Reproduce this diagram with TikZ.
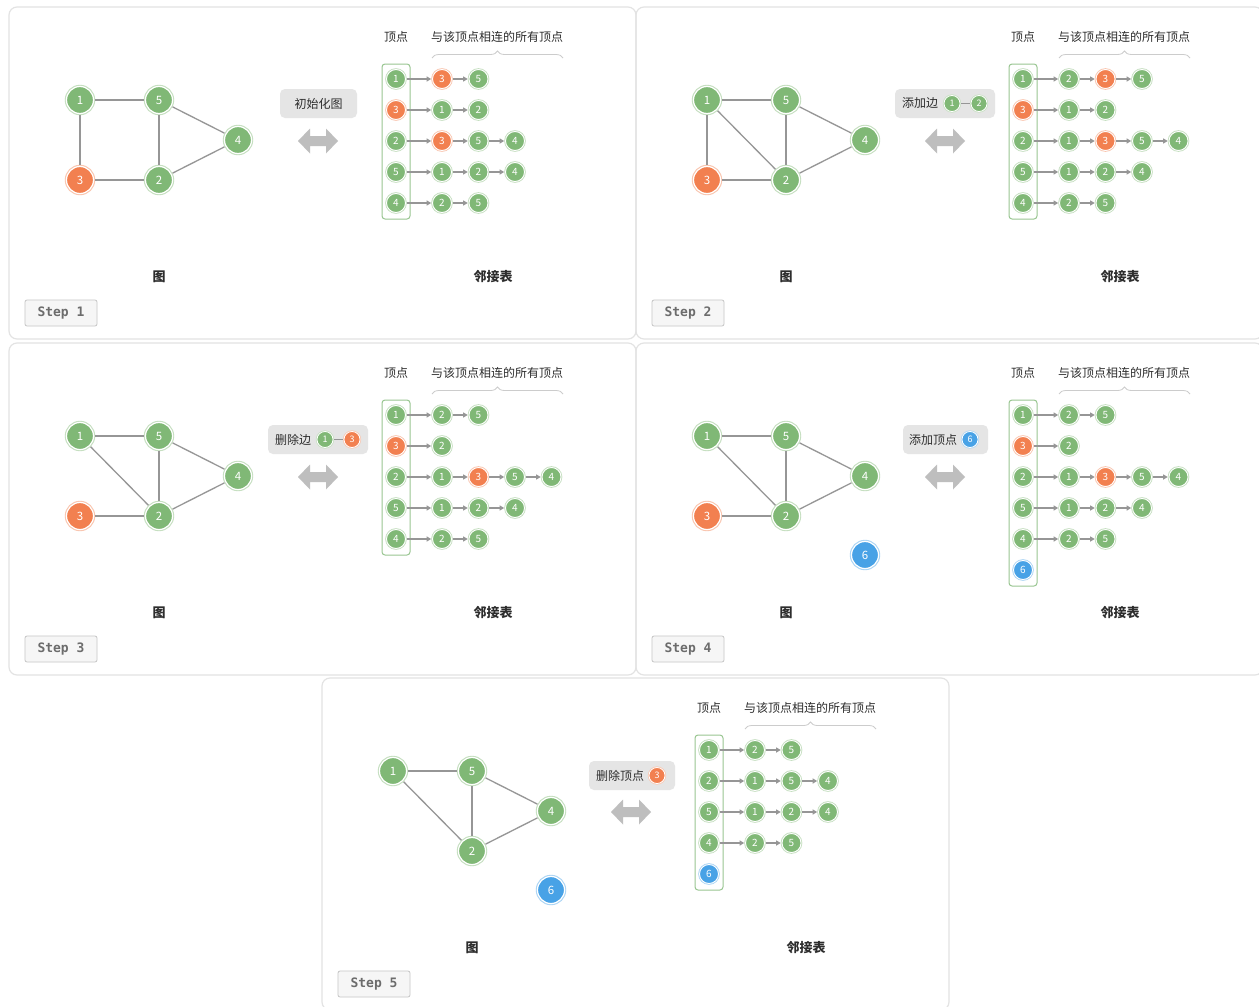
\documentclass[tikz,border=0pt]{standalone}
\usepackage{fontspec}
\setmainfont{Noto Sans CJK SC}
\setmonofont{DejaVu Sans Mono}
\usetikzlibrary{arrows.meta,positioning,calc,decorations.pathreplacing}
\definecolor{vgreen}{RGB}{128,184,118}
\definecolor{vorange}{RGB}{242,128,80}
\definecolor{vblue}{RGB}{72,162,230}
\definecolor{edgegray}{RGB}{150,150,150}
\definecolor{txtgray}{RGB}{45,45,45}
\definecolor{arrowgray}{RGB}{190,190,190}
\tikzset{
  vbase/.style={circle, fill=#1, draw=white, inner sep=0pt, text=white},
  gnode/.style={vbase=#1, line width=1.2pt, minimum size=27pt, outer sep=1.7pt,
    font=\fontsize{11.5}{11.5}\selectfont, preaction={draw=#1!45!white, line width=3.4pt}},
  lnode/.style={vbase=#1, line width=0.9pt, minimum size=19pt, outer sep=1.3pt,
    font=\fontsize{10}{10}\selectfont, preaction={draw=#1!45!white, line width=2.6pt}},
  bnode/.style={vbase=#1, line width=0.8pt, minimum size=16pt, outer sep=1pt,
    font=\fontsize{9}{9}\selectfont, preaction={draw=#1!45!white, line width=2.2pt}},
  edgeln/.style={draw=edgegray, line width=1.3pt},
  listarr/.style={-{Triangle[length=4.5pt,width=5pt]}, draw=edgegray, line width=1.1pt},
  colbox/.style={draw=vgreen!80!white, line width=1pt, rounded corners=3pt},
  panelbox/.style={draw=gray!22, line width=1.2pt, rounded corners=8pt},
  btnbox/.style={fill=gray!20, rounded corners=5pt, inner sep=0pt},
  btntxt/.style={font=\fontsize{12}{12}\selectfont, text=txtgray, inner sep=0pt},
  stepbox/.style={draw=gray!45, fill=gray!7, rounded corners=2pt, line width=0.8pt,
    minimum width=72pt, minimum height=26pt, text=gray!85!black,
    font=\ttfamily\bfseries\fontsize{13}{13}\selectfont},
  headtxt/.style={font=\fontsize{12}{12}\selectfont, text=txtgray},
  captxt/.style={font=\bfseries\fontsize{13}{13}\selectfont, text=txtgray},
  bracel/.style={draw=gray!40, line width=0.8pt, decorate, decoration={brace, amplitude=7pt}},
}
% fat two-headed arrow between graph and list
\newcommand{\dblarrow}[1]{%
  \fill[arrowgray, shift={#1}] (-20,0) -- (-8,-12.5) -- (-8,-5) -- (8,-5) -- (8,-12.5)
    -- (20,0) -- (8,12.5) -- (8,5) -- (-8,5) -- (-8,12.5) -- cycle;
}
% frame, headings and captions of one step
\newcommand{\panelframe}[2]{%
  \draw[panelbox] (0,0) rectangle (627,332);
  \node[headtxt] (#1-hv) at (387,30) {顶点};
  \node[headtxt] (#1-hl) at (488,30) {与该顶点相连的所有顶点};
  \draw[bracel] (423,51) -- (554,51);
  \node[captxt] (#1-cg) at (150,270) {图};
  \node[captxt] (#1-ca) at (484,270) {邻接表};
  \node[stepbox] (#1-st) at (52,306) {Step #2};
  \dblarrow{(309,134)}
}
% one row of the list: name, y, vertex, colour, neighbours
\newcommand{\adjrow}[5]{%
  \node[lnode=#4] (#1-0) at (387,#2) {#3};
  \foreach \vl/\vc [count=\i] in {#5} {
    \pgfmathtruncatemacro{\prv}{\i-1}
    \node[lnode=\vc] (#1-\i) at (433+36.5*\i-36.5,#2) {\vl};
    \draw[listarr] (#1-\prv) -- (#1-\i);
  }
}

\begin{document}
\begin{tikzpicture}[x=1pt, y=-1pt]
  \fill[white] (0,0) rectangle (1259,1007);
  \useasboundingbox (0,0) rectangle (1259,1007);
  \clip (0,0) rectangle (1259,1007);

  % step 1: initial graph
  \begin{scope}[shift={(9,7)}]
    \panelframe{a}{1}
    \node[gnode=vgreen] (a1) at (71,93) {1};
    \node[gnode=vgreen] (a5) at (150,93) {5};
    \node[gnode=vgreen] (a4) at (229,133) {4};
    \node[gnode=vorange] (a3) at (71,173) {3};
    \node[gnode=vgreen] (a2) at (150,173) {2};
    \draw[edgeln] (a1) -- (a5);
    \draw[edgeln] (a1) -- (a3);
    \draw[edgeln] (a5) -- (a2);
    \draw[edgeln] (a5) -- (a4);
    \draw[edgeln] (a3) -- (a2);
    \draw[edgeln] (a2) -- (a4);
    \node[btnbox, minimum width=77pt, minimum height=29pt] (a-btn) at (309.5,96.5) {};
    \node[btntxt] (a-bt) at (a-btn) {初始化图};
    \draw[colbox] (373,57) rectangle (401,212);
    \adjrow{a-r1}{72}{1}{vgreen}{3/vorange,5/vgreen}
    \adjrow{a-r2}{103}{3}{vorange}{1/vgreen,2/vgreen}
    \adjrow{a-r3}{134}{2}{vgreen}{3/vorange,5/vgreen,4/vgreen}
    \adjrow{a-r4}{165}{5}{vgreen}{1/vgreen,2/vgreen,4/vgreen}
    \adjrow{a-r5}{196}{4}{vgreen}{2/vgreen,5/vgreen}
  \end{scope}

  % step 2: add edge 1-2
  \begin{scope}[shift={(636,7)}]
    \panelframe{b}{2}
    \node[gnode=vgreen] (b1) at (71,93) {1};
    \node[gnode=vgreen] (b5) at (150,93) {5};
    \node[gnode=vgreen] (b4) at (229,133) {4};
    \node[gnode=vorange] (b3) at (71,173) {3};
    \node[gnode=vgreen] (b2) at (150,173) {2};
    \draw[edgeln] (b1) -- (b5);
    \draw[edgeln] (b1) -- (b3);
    \draw[edgeln] (b1) -- (b2);
    \draw[edgeln] (b5) -- (b2);
    \draw[edgeln] (b5) -- (b4);
    \draw[edgeln] (b3) -- (b2);
    \draw[edgeln] (b2) -- (b4);
    \node[btnbox, minimum width=100pt, minimum height=29pt] (b-btn) at (309,96.5) {};
    \node[btntxt] (b-bt) at (284,96.5) {添加边};
    \node[bnode=vgreen] (b-bx) at (316,96.5) {1};
    \node[bnode=vgreen] (b-by) at (343,96.5) {2};
    \draw[edgeln, line width=1pt] (b-bx) -- (b-by);
    \draw[colbox] (373,57) rectangle (401,212);
    \adjrow{b-r1}{72}{1}{vgreen}{2/vgreen,3/vorange,5/vgreen}
    \adjrow{b-r2}{103}{3}{vorange}{1/vgreen,2/vgreen}
    \adjrow{b-r3}{134}{2}{vgreen}{1/vgreen,3/vorange,5/vgreen,4/vgreen}
    \adjrow{b-r4}{165}{5}{vgreen}{1/vgreen,2/vgreen,4/vgreen}
    \adjrow{b-r5}{196}{4}{vgreen}{2/vgreen,5/vgreen}
  \end{scope}

  % step 3: remove edge 1-3
  \begin{scope}[shift={(9,343)}]
    \panelframe{c}{3}
    \node[gnode=vgreen] (c1) at (71,93) {1};
    \node[gnode=vgreen] (c5) at (150,93) {5};
    \node[gnode=vgreen] (c4) at (229,133) {4};
    \node[gnode=vorange] (c3) at (71,173) {3};
    \node[gnode=vgreen] (c2) at (150,173) {2};
    \draw[edgeln] (c1) -- (c5);
    \draw[edgeln] (c1) -- (c2);
    \draw[edgeln] (c5) -- (c2);
    \draw[edgeln] (c5) -- (c4);
    \draw[edgeln] (c3) -- (c2);
    \draw[edgeln] (c2) -- (c4);
    \node[btnbox, minimum width=100pt, minimum height=29pt] (c-btn) at (309,96.5) {};
    \node[btntxt] (c-bt) at (284,96.5) {删除边};
    \node[bnode=vgreen] (c-bx) at (316,96.5) {1};
    \node[bnode=vorange] (c-by) at (343,96.5) {3};
    \draw[edgeln, line width=1pt] (c-bx) -- (c-by);
    \draw[colbox] (373,57) rectangle (401,212);
    \adjrow{c-r1}{72}{1}{vgreen}{2/vgreen,5/vgreen}
    \adjrow{c-r2}{103}{3}{vorange}{2/vgreen}
    \adjrow{c-r3}{134}{2}{vgreen}{1/vgreen,3/vorange,5/vgreen,4/vgreen}
    \adjrow{c-r4}{165}{5}{vgreen}{1/vgreen,2/vgreen,4/vgreen}
    \adjrow{c-r5}{196}{4}{vgreen}{2/vgreen,5/vgreen}
  \end{scope}

  % step 4: add vertex 6
  \begin{scope}[shift={(636,343)}]
    \panelframe{d}{4}
    \node[gnode=vgreen] (d1) at (71,93) {1};
    \node[gnode=vgreen] (d5) at (150,93) {5};
    \node[gnode=vgreen] (d4) at (229,133) {4};
    \node[gnode=vorange] (d3) at (71,173) {3};
    \node[gnode=vgreen] (d2) at (150,173) {2};
    \node[gnode=vblue] (d6) at (229,212) {6};
    \draw[edgeln] (d1) -- (d5);
    \draw[edgeln] (d1) -- (d2);
    \draw[edgeln] (d5) -- (d2);
    \draw[edgeln] (d5) -- (d4);
    \draw[edgeln] (d3) -- (d2);
    \draw[edgeln] (d2) -- (d4);
    \node[btnbox, minimum width=85pt, minimum height=29pt] (d-btn) at (309.5,96.5) {};
    \node[btntxt] (d-bt) at (297,96.5) {添加顶点};
    \node[bnode=vblue] (d-bx) at (334,96.5) {6};
    \draw[colbox] (373,57) rectangle (401,243);
    \adjrow{d-r1}{72}{1}{vgreen}{2/vgreen,5/vgreen}
    \adjrow{d-r2}{103}{3}{vorange}{2/vgreen}
    \adjrow{d-r3}{134}{2}{vgreen}{1/vgreen,3/vorange,5/vgreen,4/vgreen}
    \adjrow{d-r4}{165}{5}{vgreen}{1/vgreen,2/vgreen,4/vgreen}
    \adjrow{d-r5}{196}{4}{vgreen}{2/vgreen,5/vgreen}
    \node[lnode=vblue] (d-r6-0) at (387,227) {6};
  \end{scope}

  % step 5: remove vertex 3
  \begin{scope}[shift={(322,678)}]
    \panelframe{e}{5}
    \node[gnode=vgreen] (e1) at (71,93) {1};
    \node[gnode=vgreen] (e5) at (150,93) {5};
    \node[gnode=vgreen] (e4) at (229,133) {4};
    \node[gnode=vgreen] (e2) at (150,173) {2};
    \node[gnode=vblue] (e6) at (229,212) {6};
    \draw[edgeln] (e1) -- (e5);
    \draw[edgeln] (e1) -- (e2);
    \draw[edgeln] (e5) -- (e2);
    \draw[edgeln] (e5) -- (e4);
    \draw[edgeln] (e2) -- (e4);
    \node[btnbox, minimum width=86pt, minimum height=29pt] (e-btn) at (310,97.5) {};
    \node[btntxt] (e-bt) at (298,97.5) {删除顶点};
    \node[bnode=vorange] (e-bx) at (335,97.5) {3};
    \draw[colbox] (373,57) rectangle (401,212);
    \adjrow{e-r1}{72}{1}{vgreen}{2/vgreen,5/vgreen}
    \adjrow{e-r2}{103}{2}{vgreen}{1/vgreen,5/vgreen,4/vgreen}
    \adjrow{e-r3}{134}{5}{vgreen}{1/vgreen,2/vgreen,4/vgreen}
    \adjrow{e-r4}{165}{4}{vgreen}{2/vgreen,5/vgreen}
    \node[lnode=vblue] (e-r5-0) at (387,196) {6};
  \end{scope}
\end{tikzpicture}
\end{document}
